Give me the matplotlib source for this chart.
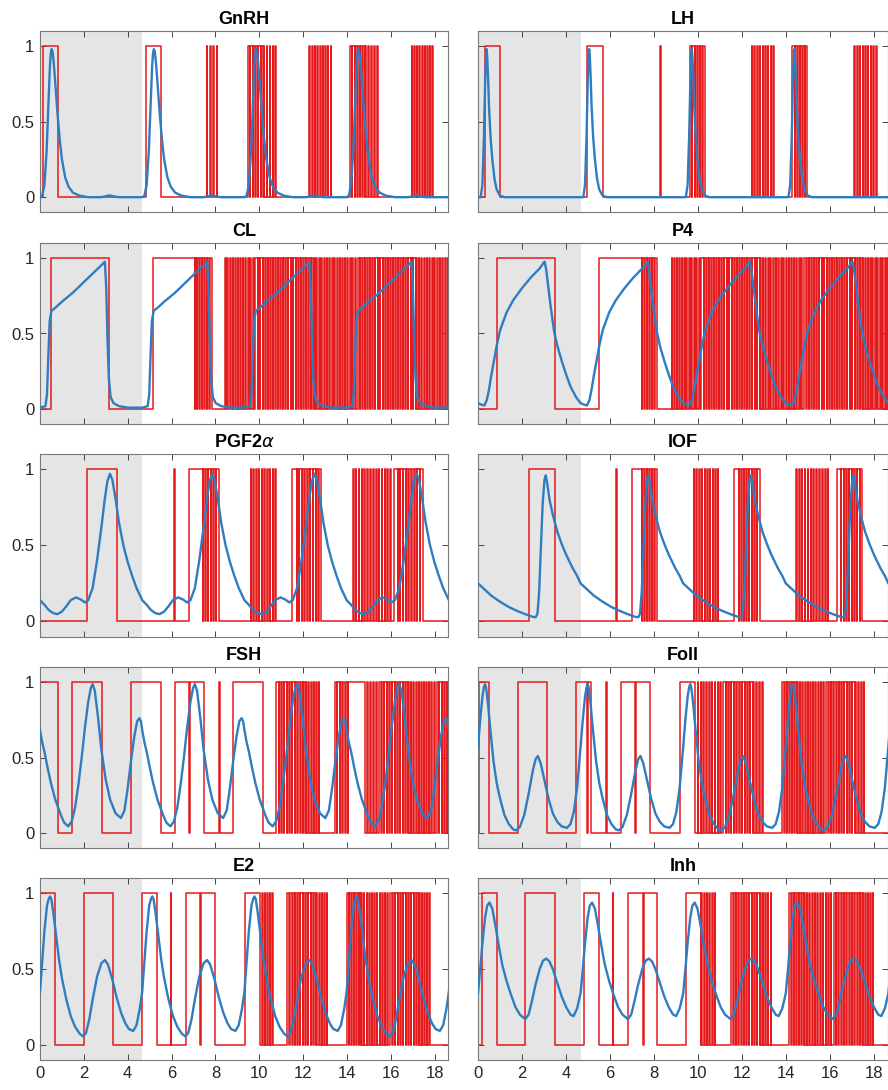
import numpy as np
import matplotlib
matplotlib.use("Agg")
from matplotlib import pyplot as plt

plt.rcParams['font.family'] = ['Liberation Sans', 'DejaVu Sans']
plt.rcParams['mathtext.fontset'] = 'dejavusans'

periodo = 4.66   # um ciclo (faixa cinza)
xmax = 18.6

titulos = ["GnRH", "LH", "CL", "P4", r"PGF2$\alpha$", "IOF", "FSH", "Foll", "E2", "Inh"]

# curvas azuis: um ciclo (x, y), repetido ao longo do eixo
gnrh_x = [0, 0.1, 0.2, 0.3, 0.38, 0.45, 0.49, 0.53, 0.57, 0.62, 0.7, 0.8, 0.9, 1.0, 1.15, 1.3, 1.5, 1.8, 2.2, 2.8, 3.0, 3.15, 3.35, 3.6, 4.4]
gnrh_y = [0, 0.01, 0.08, 0.3, 0.6, 0.86, 0.95, 0.98, 0.965, 0.9, 0.75, 0.55, 0.38, 0.25, 0.13, 0.07, 0.03, 0.01, 0, 0, 0.006, 0.012, 0.006, 0, 0]

lh_x = [0, 0.12, 0.2, 0.27, 0.33, 0.37, 0.39, 0.42, 0.46, 0.5, 0.57, 0.65, 0.75, 0.85, 1.0, 1.2, 4.4]
lh_y = [0, 0, 0.08, 0.4, 0.8, 0.95, 0.98, 0.93, 0.78, 0.6, 0.4, 0.25, 0.12, 0.05, 0.01, 0, 0]

cl_x = [0, 0.25, 0.32, 0.38, 0.44, 0.52, 0.7, 1.0, 1.5, 2.0, 2.5, 2.9, 2.96, 3.02, 3.08, 3.14, 3.22, 3.35, 3.6, 4.0, 4.4]
cl_y = [0.01, 0.02, 0.1, 0.35, 0.58, 0.65, 0.67, 0.71, 0.77, 0.84, 0.91, 0.965, 0.975, 0.8, 0.45, 0.2, 0.08, 0.04, 0.02, 0.01, 0.01]

p4_x = [0, 0.15, 0.29, 0.4, 0.5, 0.6, 0.7, 0.85, 1.0, 1.3, 1.6, 2.0, 2.4, 2.8, 2.97, 3.03, 3.1, 3.2, 3.3, 3.45, 3.6, 3.8, 4.0, 4.2, 4.45]
p4_y = [0.04, 0.03, 0.025, 0.06, 0.13, 0.22, 0.3, 0.42, 0.52, 0.64, 0.72, 0.8, 0.87, 0.93, 0.965, 0.975, 0.92, 0.8, 0.68, 0.52, 0.42, 0.32, 0.23, 0.15, 0.08]

pgf_x = [0, 0.2, 0.4, 0.6, 0.79, 1.0, 1.2, 1.4, 1.64, 1.85, 2.05, 2.2, 2.4, 2.6, 2.8, 2.95, 3.07, 3.19, 3.3, 3.45, 3.6, 3.8, 4.0, 4.2, 4.4]
pgf_y = [0.14, 0.11, 0.075, 0.055, 0.048, 0.065, 0.1, 0.14, 0.158, 0.145, 0.125, 0.14, 0.22, 0.4, 0.62, 0.8, 0.92, 0.97, 0.93, 0.8, 0.65, 0.5, 0.39, 0.3, 0.22]

iof_x = [0, 0.3, 0.6, 1.0, 1.4, 1.8, 2.2, 2.5, 2.62, 2.7, 2.78, 2.86, 2.94, 3.02, 3.08, 3.15, 3.25, 3.4, 3.6, 3.8, 4.0, 4.3, 4.5]
iof_y = [0.25, 0.21, 0.17, 0.13, 0.095, 0.068, 0.045, 0.03, 0.028, 0.05, 0.2, 0.5, 0.78, 0.93, 0.96, 0.9, 0.8, 0.7, 0.59, 0.51, 0.44, 0.35, 0.3]

fsh_x = [0, 0.1, 0.2, 0.35, 0.5, 0.7, 0.95, 1.1, 1.29, 1.45, 1.6, 1.75, 1.9, 2.05, 2.2, 2.32, 2.4, 2.5, 2.65, 2.8, 3.0, 3.2, 3.45, 3.69, 3.85, 4.0, 4.15, 4.3, 4.43, 4.53, 4.6]
fsh_y = [0.68, 0.6, 0.54, 0.43, 0.33, 0.22, 0.12, 0.07, 0.045, 0.08, 0.17, 0.32, 0.5, 0.7, 0.87, 0.96, 0.985, 0.94, 0.76, 0.55, 0.35, 0.22, 0.13, 0.1, 0.15, 0.3, 0.48, 0.64, 0.74, 0.76, 0.74]

foll_x = [0, 0.1, 0.2, 0.27, 0.32, 0.37, 0.45, 0.55, 0.7, 0.85, 1.0, 1.2, 1.4, 1.6, 1.73, 1.9, 2.1, 2.3, 2.5, 2.62, 2.72, 2.85, 3.0, 3.2, 3.4, 3.6, 3.8, 4.04, 4.2, 4.35, 4.5]
foll_y = [0.57, 0.75, 0.9, 0.965, 0.985, 0.96, 0.86, 0.7, 0.48, 0.33, 0.23, 0.12, 0.06, 0.025, 0.018, 0.04, 0.12, 0.26, 0.42, 0.49, 0.51, 0.46, 0.36, 0.23, 0.13, 0.075, 0.045, 0.035, 0.06, 0.14, 0.3]

e2_x = [0, 0.1, 0.2, 0.32, 0.4, 0.46, 0.52, 0.6, 0.72, 0.86, 1.0, 1.2, 1.4, 1.6, 1.8, 1.97, 2.1, 2.25, 2.4, 2.6, 2.8, 2.96, 3.1, 3.3, 3.5, 3.7, 3.9, 4.05, 4.25, 4.4, 4.55]
e2_y = [0.35, 0.55, 0.75, 0.92, 0.965, 0.98, 0.96, 0.88, 0.74, 0.57, 0.44, 0.3, 0.19, 0.12, 0.075, 0.055, 0.08, 0.17, 0.3, 0.45, 0.54, 0.56, 0.53, 0.43, 0.31, 0.21, 0.14, 0.105, 0.092, 0.13, 0.24]

inh_x = [0, 0.1, 0.2, 0.32, 0.42, 0.52, 0.65, 0.8, 0.95, 1.1, 1.3, 1.5, 1.7, 1.9, 2.15, 2.3, 2.45, 2.6, 2.8, 2.95, 3.1, 3.25, 3.4, 3.6, 3.8, 4.0, 4.2, 4.34, 4.5]
inh_y = [0.34, 0.5, 0.67, 0.84, 0.92, 0.94, 0.9, 0.78, 0.65, 0.53, 0.42, 0.33, 0.25, 0.2, 0.17, 0.2, 0.29, 0.39, 0.5, 0.555, 0.57, 0.55, 0.5, 0.41, 0.32, 0.25, 0.2, 0.19, 0.24]

# sinais vermelhos: trechos ligados (ini, fim) e rajadas (ini, fim, n pulsos, fração ligada)
gnrh_on = [(0.15, 0.84), (4.81, 5.50)]
gnrh_raj = [(7.6, 8.2, 4, 0.2), (9.47, 10.2, 6, 0.85), (10.2, 10.87, 5, 0.2), (12.28, 13.37, 9, 0.2),
            (14.13, 14.82, 6, 0.85), (14.82, 15.5, 5, 0.2), (16.95, 18.0, 9, 0.2)]

lh_on = [(0.32, 1.0), (4.96, 5.68), (8.28, 8.33)]
lh_raj = [(9.62, 10.33, 6, 0.85), (12.43, 13.54, 9, 0.2), (14.28, 14.98, 6, 0.85), (17.1, 18.2, 9, 0.2)]

cl_on = [(0.5, 3.16), (5.15, 7.06)]
cl_raj = [(7.06, 7.84, 7, 0.85), (8.43, 9.82, 12, 0.3), (9.82, 12.48, 23, 0.85), (12.48, 14.48, 17, 0.3),
          (14.48, 17.14, 23, 0.85), (17.14, 18.7, 13, 0.3)]

p4_on = [(0.85, 3.49), (5.49, 7.45)]
p4_raj = [(7.45, 8.15, 6, 0.85), (8.79, 10.15, 12, 0.3), (10.15, 12.81, 23, 0.85), (12.81, 14.81, 17, 0.3),
          (14.81, 17.47, 23, 0.85), (17.47, 18.7, 11, 0.3)]

pgf_on = [(2.16, 3.49), (6.13, 6.17), (6.8, 7.44), (11.47, 11.7), (16.14, 16.3)]
pgf_raj = [(7.44, 8.16, 6, 0.85), (9.6, 10.86, 10, 0.2), (11.7, 12.83, 9, 0.85), (14.27, 16.1, 14, 0.2),
           (16.3, 17.46, 9, 0.85)]

iof_on = [(2.31, 3.49), (6.29, 6.33), (7.0, 7.45), (11.62, 11.85), (16.3, 16.5)]
iof_raj = [(7.45, 8.15, 6, 0.85), (9.8, 11.02, 10, 0.2), (11.85, 12.81, 8, 0.85), (14.45, 16.02, 12, 0.2),
           (16.5, 17.48, 8, 0.85)]

fsh_on = [(0, 0.84), (1.47, 2.81), (4.15, 5.5), (6.17, 6.81), (6.86, 7.47), (8.16, 8.2), (8.81, 10.17), (14.05, 14.8)]
fsh_raj = [(10.78, 12.12, 11, 0.85), (12.12, 12.83, 6, 0.2), (13.44, 14.05, 5, 0.85), (14.8, 15.45, 5, 0.2),
           (15.45, 16.79, 11, 0.85), (16.79, 18.08, 11, 0.2), (18.08, 18.7, 5, 0.85)]

foll_on = [(0.06, 0.49), (1.82, 3.14), (4.46, 4.94), (4.98, 5.14), (5.81, 5.85), (6.48, 7.14), (7.18, 7.83), (9.17, 9.85)]
foll_raj = [(9.85, 11.14, 10, 0.2), (11.14, 12.5, 11, 0.85), (12.5, 13.03, 4, 0.2), (13.82, 14.5, 6, 0.85),
            (14.5, 15.8, 11, 0.2), (15.8, 17.13, 11, 0.85), (17.13, 17.66, 4, 0.2)]

e2_on = [(0, 0.68), (2.02, 3.34), (4.66, 5.32), (5.95, 5.99), (6.65, 7.3), (7.34, 7.97), (9.34, 10.02)]
e2_raj = [(10.02, 10.7, 6, 0.2), (11.27, 12.6, 11, 0.85), (12.6, 13.2, 5, 0.2), (14.0, 14.65, 6, 0.85),
          (14.65, 15.95, 11, 0.2), (15.95, 17.3, 11, 0.85), (17.3, 17.85, 5, 0.2)]

inh_on = [(0.18, 0.85), (2.15, 3.49), (4.8, 5.48), (6.11, 6.15), (6.81, 7.48), (7.52, 8.15), (9.47, 10.15)]
inh_raj = [(10.15, 10.87, 6, 0.2), (11.49, 12.81, 11, 0.85), (12.81, 13.41, 5, 0.2), (14.13, 14.81, 6, 0.85),
           (14.81, 16.15, 11, 0.2), (16.15, 17.48, 11, 0.85), (17.48, 18.04, 5, 0.2)]

azuis = [(gnrh_x, gnrh_y), (lh_x, lh_y), (cl_x, cl_y), (p4_x, p4_y), (pgf_x, pgf_y),
         (iof_x, iof_y), (fsh_x, fsh_y), (foll_x, foll_y), (e2_x, e2_y), (inh_x, inh_y)]
vermelhos = [(gnrh_on, gnrh_raj), (lh_on, lh_raj), (cl_on, cl_raj), (p4_on, p4_raj), (pgf_on, pgf_raj),
             (iof_on, iof_raj), (fsh_on, fsh_raj), (foll_on, foll_raj), (e2_on, e2_raj), (inh_on, inh_raj)]


def sinal(ligado, rajadas):
    trechos = list(ligado)
    for ini, fim, n, frac in rajadas:
        passo = (fim - ini) / n
        for i in range(n):
            a = ini + i * passo
            trechos.append((a, a + frac * passo))
    trechos.sort()
    xs, ys = [0.0], [0]
    for a, b in trechos:
        xs += [a, a, b, b]
        ys += [0, 1, 1, 0]
    xs.append(20.0)
    ys.append(0)
    return xs, ys


def ciclo(xs, ys):
    X = np.concatenate([np.array(xs) + k * periodo for k in range(5)])
    Y = np.tile(ys, 5)
    return X, Y


fig = plt.figure(figsize=(8.88, 10.9), dpi=100)
W, H = 888.0, 1090.0
esq = [(40, 448), (478, 887.5)]
linhas = [(31, 212.3), (242.7, 424.3), (454, 636.7), (666.7, 848.3), (878.3, 1060)]

for k in range(10):
    r, c = k // 2, k % 2
    l, rr = esq[c]
    t, b = linhas[r]
    ax = fig.add_axes([l / W, 1 - b / H, (rr - l) / W, (b - t) / H])
    ax.axvspan(0, periodo, color='#e5e5e5', lw=0, zorder=0)
    xr, yr = sinal(*vermelhos[k])
    ax.plot(xr, yr, color='#e41a1c', lw=1.1, zorder=2)
    xb, yb = ciclo(*azuis[k])
    ax.plot(xb, yb, color='#2f7dc0', lw=1.7, zorder=3)
    ax.set_xlim(0, xmax)
    ax.set_ylim(-0.1, 1.1)
    ax.set_xticks(range(0, 19, 2))
    ax.set_yticks([0, 0.5, 1])
    ax.set_yticklabels(['0', '0.5', '1'])
    ax.tick_params(direction='in', top=True, right=True, length=4, width=0.7,
                   color='#444444', labelsize=12, labelcolor='#262626', pad=4)
    if r < 4:
        ax.set_xticklabels([])
    if c == 1:
        ax.set_yticklabels([])
    for s in ax.spines.values():
        s.set_color('#7a7a7a')
        s.set_linewidth(0.8)
    ax.set_title(titulos[k], fontsize=13, fontweight='bold', pad=5)

fig.savefig("out.png", dpi=100)
